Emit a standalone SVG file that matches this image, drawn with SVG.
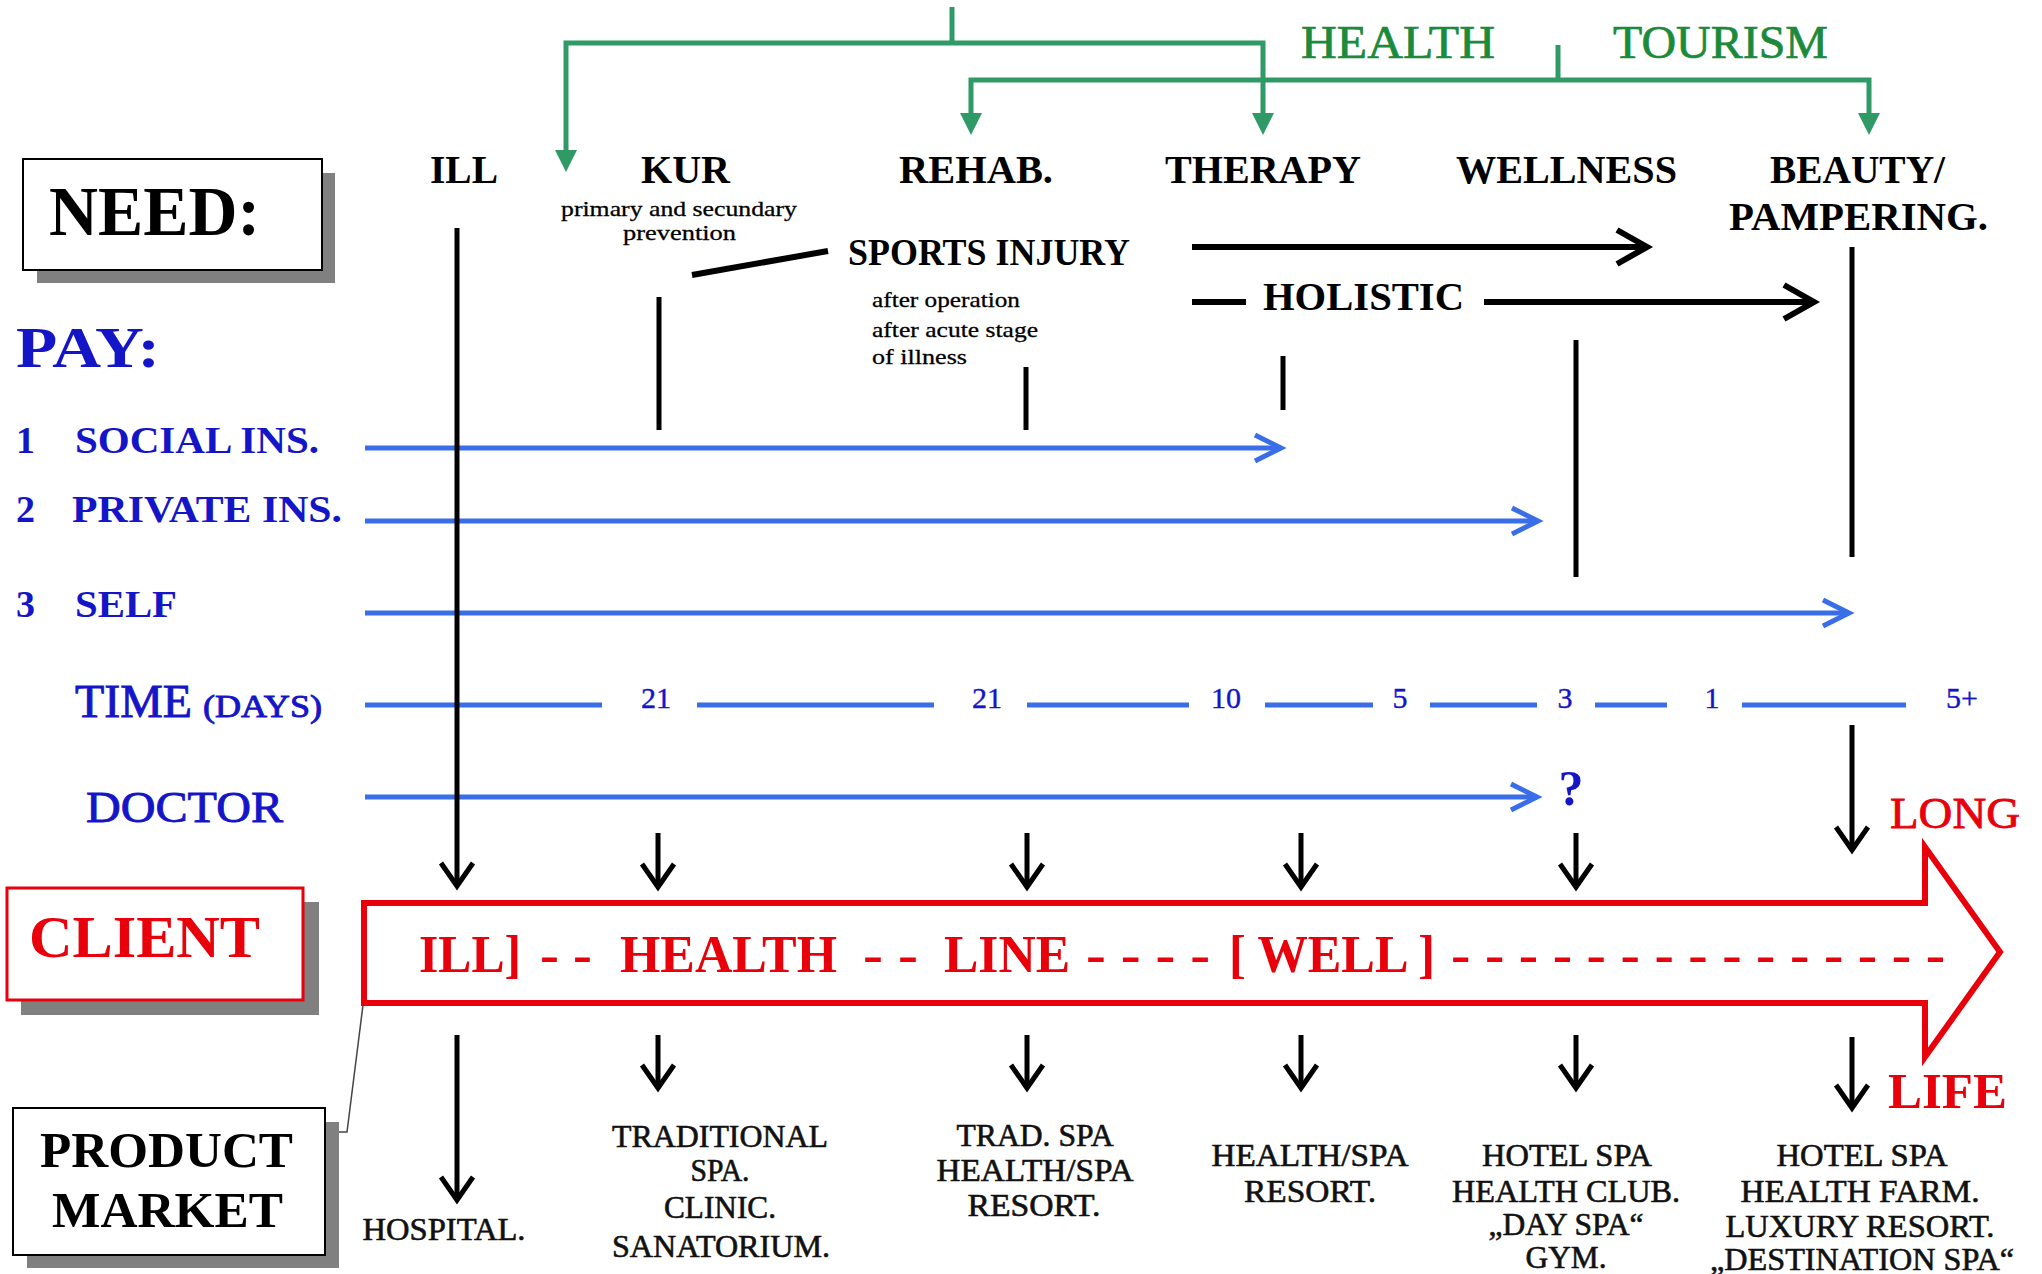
<svg xmlns="http://www.w3.org/2000/svg" width="2042" height="1274" viewBox="0 0 2042 1274">
<style>
 text{font-family:"Liberation Serif","Times New Roman",serif}
 .hdr{font-family:"Liberation Serif","Times New Roman",serif;font-weight:bold;font-size:39px;fill:#000}
 .sm{font-family:"Liberation Serif","Times New Roman",serif;font-size:22px;fill:#000;stroke:#000;stroke-width:0.3}
 .gt{font-family:"Liberation Serif","Times New Roman",serif;font-size:46px;fill:#1b8a3a;stroke:#1b8a3a;stroke-width:0.7}
 .bt{font-family:"Liberation Serif","Times New Roman",serif;font-weight:bold;font-size:38px;fill:#1515c8}
 .bm{font-family:"Liberation Serif","Times New Roman",serif;fill:#1515c8;stroke:#1515c8;stroke-width:0.9}
 .bn{font-family:"Liberation Serif","Times New Roman",serif;font-size:30px;fill:#1515c8;stroke:#1515c8;stroke-width:0.4;text-anchor:middle}
 .rt{font-family:"Liberation Serif","Times New Roman",serif;font-weight:bold;font-size:52px;fill:#e8000b}
 .pr{font-family:"Liberation Serif","Times New Roman",serif;font-size:31px;fill:#111;stroke:#111;stroke-width:0.6;text-anchor:middle}
 .bl{fill:none;stroke:#3a6ee8;stroke-width:5}
 .bk{fill:none;stroke:#000;stroke-width:5}
 .bk6{fill:none;stroke:#000;stroke-width:6}
 .gr{fill:none;stroke:#2f9a66;stroke-width:5}
 .shadow{fill:#808080}
</style>
<defs>
 <marker id="chevB" viewBox="-32 -18 38 36" refX="0" refY="0" markerWidth="38" markerHeight="36" orient="auto" markerUnits="userSpaceOnUse">
  <path d="M-26,-13 L0,0 L-26,13" fill="none" stroke="#3a6ee8" stroke-width="5"/>
 </marker>
 <marker id="chevK" viewBox="-30 -22 36 44" refX="0" refY="0" markerWidth="36" markerHeight="44" orient="auto" markerUnits="userSpaceOnUse">
  <path d="M-23,-16 L0,0 L-23,16" fill="none" stroke="#000" stroke-width="5"/>
 </marker>
 <marker id="chevK2" viewBox="-36 -22 44 44" refX="0" refY="0" markerWidth="44" markerHeight="44" orient="auto" markerUnits="userSpaceOnUse">
  <path d="M-30,-17 L0,0 L-30,17" fill="none" stroke="#000" stroke-width="6"/>
 </marker>
 <marker id="triG" viewBox="-2 -14 28 28" refX="0" refY="0" markerWidth="28" markerHeight="28" orient="auto" markerUnits="userSpaceOnUse">
  <path d="M0,-11 L22,0 L0,11 Z" fill="#2f9a66"/>
 </marker>
</defs>

<g id="connectors">
 <path class="gr" d="M952,7 V43"/>
 <path class="gr" d="M952,43 H566 V150" marker-end="url(#triG)"/>
 <path class="gr" d="M952,43 H1263 V113" marker-end="url(#triG)"/>
 <path class="gr" d="M1558,45 V80"/>
 <path class="gr" d="M1558,80 H971 V113" marker-end="url(#triG)"/>
 <path class="gr" d="M1558,80 H1869 V113" marker-end="url(#triG)"/>
 <path class="bl" d="M365,448 H1281" marker-end="url(#chevB)"/>
 <path class="bl" d="M365,521 H1538" marker-end="url(#chevB)"/>
 <path class="bl" d="M365,613 H1849" marker-end="url(#chevB)"/>
 <path class="bl" d="M365,797 H1537" marker-end="url(#chevB)"/>
 <path class="bl" d="M365,705 H602 M697,705 H934 M1027,705 H1189 M1265,705 H1373 M1430,705 H1537 M1595,705 H1667 M1742,705 H1906"/>
 <path class="bk" d="M457,228 V886" marker-end="url(#chevK)"/>
 <path class="bk" d="M659,297 V430"/>
 <path class="bk6" d="M692,275 L828,251"/>
 <path class="bk" d="M1026,367 V430"/>
 <path class="bk" d="M1283,356 V410"/>
 <path class="bk" d="M1576,340 V577"/>
 <path class="bk" d="M1852,247 V557"/>
 <path class="bk6" d="M1192,247 H1647" marker-end="url(#chevK2)"/>
 <path class="bk6" d="M1192,302 H1246"/>
 <path class="bk6" d="M1484,302 H1814" marker-end="url(#chevK2)"/>
 <path class="bk" d="M1852,725 V850" marker-end="url(#chevK)"/>
 <path class="bk" d="M658,833 V887" marker-end="url(#chevK)"/>
 <path class="bk" d="M1027,833 V887" marker-end="url(#chevK)"/>
 <path class="bk" d="M1301,833 V887" marker-end="url(#chevK)"/>
 <path class="bk" d="M1576,833 V887" marker-end="url(#chevK)"/>
 <path class="bk" d="M457,1035 V1200" marker-end="url(#chevK)"/>
 <path class="bk" d="M658,1035 V1088" marker-end="url(#chevK)"/>
 <path class="bk" d="M1027,1035 V1088" marker-end="url(#chevK)"/>
 <path class="bk" d="M1301,1035 V1088" marker-end="url(#chevK)"/>
 <path class="bk" d="M1576,1035 V1088" marker-end="url(#chevK)"/>
 <path class="bk" d="M1852,1037 V1108" marker-end="url(#chevK)"/>
 <polyline points="363,1005 347,1132 338,1132" fill="none" stroke="#444" stroke-width="1.5"/>
</g>

<g id="health-tourism">
 <text class="gt" x="1301" y="58" textLength="194" lengthAdjust="spacingAndGlyphs">HEALTH</text>
 <text class="gt" x="1613" y="58" textLength="215" lengthAdjust="spacingAndGlyphs">TOURISM</text>
</g>

<g id="need">
 <rect class="shadow" x="37" y="173" width="298" height="110"/>
 <rect x="23" y="159" width="299" height="111" fill="#fff" stroke="#000" stroke-width="2"/>
 <text x="49" y="235" font-size="70" font-weight="bold" textLength="211" lengthAdjust="spacingAndGlyphs">NEED:</text>
</g>

<g id="ill"><text class="hdr" x="430" y="183" textLength="68" lengthAdjust="spacingAndGlyphs">ILL</text></g>
<g id="kur">
 <text class="hdr" x="641" y="183" textLength="89" lengthAdjust="spacingAndGlyphs">KUR</text>
 <text class="sm" x="561" y="216" textLength="236" lengthAdjust="spacingAndGlyphs">primary and secundary</text>
 <text class="sm" x="623" y="240" textLength="113" lengthAdjust="spacingAndGlyphs">prevention</text>
</g>
<g id="rehab"><text class="hdr" x="899" y="183" textLength="154" lengthAdjust="spacingAndGlyphs">REHAB.</text></g>
<g id="therapy"><text class="hdr" x="1165" y="183" textLength="196" lengthAdjust="spacingAndGlyphs">THERAPY</text></g>
<g id="wellness"><text class="hdr" x="1456" y="183" textLength="221" lengthAdjust="spacingAndGlyphs">WELLNESS</text></g>
<g id="beauty">
 <text class="hdr" x="1770" y="183" textLength="175" lengthAdjust="spacingAndGlyphs">BEAUTY/</text>
 <text class="hdr" x="1729" y="230" textLength="259" lengthAdjust="spacingAndGlyphs">PAMPERING.</text>
</g>

<g id="sports-injury">
 <text x="848" y="265" font-size="37" font-weight="bold" textLength="282" lengthAdjust="spacingAndGlyphs">SPORTS INJURY</text>
 <text class="sm" x="872" y="307" textLength="148" lengthAdjust="spacingAndGlyphs">after operation</text>
 <text class="sm" x="872" y="337" textLength="166" lengthAdjust="spacingAndGlyphs">after acute stage</text>
 <text class="sm" x="872" y="364" textLength="95" lengthAdjust="spacingAndGlyphs">of illness</text>
</g>
<g id="holistic"><text x="1263" y="310" font-size="39" font-weight="bold" textLength="201" lengthAdjust="spacingAndGlyphs">HOLISTIC</text></g>

<g id="pay"><text x="16" y="367" font-size="58" font-weight="bold" fill="#1515c8" textLength="144" lengthAdjust="spacingAndGlyphs">PAY:</text></g>
<g id="social">
 <text class="bt" x="16" y="453">1</text>
 <text class="bt" x="75" y="453" textLength="244" lengthAdjust="spacingAndGlyphs">SOCIAL INS.</text>
</g>
<g id="private">
 <text class="bt" x="16" y="522">2</text>
 <text class="bt" x="72" y="522" textLength="270" lengthAdjust="spacingAndGlyphs">PRIVATE INS.</text>
</g>
<g id="self">
 <text class="bt" x="16" y="617">3</text>
 <text class="bt" x="75" y="617" textLength="102" lengthAdjust="spacingAndGlyphs">SELF</text>
</g>
<g id="time">
 <text class="bm" x="75" y="717" font-size="46" textLength="117" lengthAdjust="spacingAndGlyphs">TIME</text>
 <text class="bm" x="203" y="717" font-size="31" textLength="119" lengthAdjust="spacingAndGlyphs">(DAYS)</text>
 <text class="bn" x="656" y="708">21</text>
 <text class="bn" x="987" y="708">21</text>
 <text class="bn" x="1226" y="708">10</text>
 <text class="bn" x="1400" y="708">5</text>
 <text class="bn" x="1565" y="708">3</text>
 <text class="bn" x="1712" y="708">1</text>
 <text class="bn" x="1962" y="708">5+</text>
</g>
<g id="doctor">
 <text class="bm" x="86" y="822" font-size="45" textLength="197" lengthAdjust="spacingAndGlyphs">DOCTOR</text>
 <text x="1571" y="805" font-size="50" font-weight="bold" fill="#1515c8" text-anchor="middle">?</text>
</g>

<g id="long-life">
 <text x="1890" y="828" font-size="45" fill="#e8000b" stroke="#e8000b" stroke-width="0.8" textLength="130" lengthAdjust="spacingAndGlyphs">LONG</text>
 <text x="1888" y="1108" font-size="50" font-weight="bold" fill="#e8000b" textLength="119" lengthAdjust="spacingAndGlyphs">LIFE</text>
</g>

<g id="client">
 <rect class="shadow" x="21" y="902" width="298" height="113"/>
 <rect x="7" y="888" width="296" height="112" fill="#fff" stroke="#e8000b" stroke-width="3"/>
 <text x="29" y="957" font-size="60" font-weight="bold" fill="#e8000b" textLength="231" lengthAdjust="spacingAndGlyphs">CLIENT</text>
</g>

<g id="health-line">
 <polygon points="364,903 1925,903 1925,847 2000,952 1925,1057 1925,1003 364,1003" fill="#fff" stroke="#e8000b" stroke-width="6"/>
 <text class="rt" x="419" y="972" textLength="102" lengthAdjust="spacingAndGlyphs">ILL]</text>
 <text class="rt" x="540" y="972" textLength="52" lengthAdjust="spacingAndGlyphs">- -</text>
 <text class="rt" x="620" y="972" textLength="217" lengthAdjust="spacingAndGlyphs">HEALTH</text>
 <text class="rt" x="863" y="972" textLength="55" lengthAdjust="spacingAndGlyphs">- -</text>
 <text class="rt" x="944" y="972" textLength="126" lengthAdjust="spacingAndGlyphs">LINE</text>
 <text class="rt" x="1086" y="972" textLength="124" lengthAdjust="spacingAndGlyphs">- - - -</text>
 <text class="rt" x="1229" y="972" textLength="206" lengthAdjust="spacingAndGlyphs">[ WELL ]</text>
 <text class="rt" x="1451" y="972" textLength="494" lengthAdjust="spacingAndGlyphs">- - - - - - - - - - - - - - -</text>
</g>

<g id="product-market">
 <rect class="shadow" x="27" y="1122" width="312" height="146"/>
 <rect x="13" y="1108" width="312" height="147" fill="#fff" stroke="#000" stroke-width="2"/>
 <text x="40" y="1167" font-size="50" font-weight="bold" textLength="253" lengthAdjust="spacingAndGlyphs">PRODUCT</text>
 <text x="52" y="1227" font-size="50" font-weight="bold" textLength="231" lengthAdjust="spacingAndGlyphs">MARKET</text>
</g>

<g id="hospital"><text class="pr" x="444" y="1240" textLength="163" lengthAdjust="spacingAndGlyphs">HOSPITAL.</text></g>
<g id="traditional-spa">
 <text class="pr" x="720" y="1147" textLength="216" lengthAdjust="spacingAndGlyphs">TRADITIONAL</text>
 <text class="pr" x="720" y="1181" textLength="59" lengthAdjust="spacingAndGlyphs">SPA.</text>
 <text class="pr" x="720" y="1218" textLength="112" lengthAdjust="spacingAndGlyphs">CLINIC.</text>
 <text class="pr" x="721" y="1257" textLength="218" lengthAdjust="spacingAndGlyphs">SANATORIUM.</text>
</g>
<g id="trad-spa">
 <text class="pr" x="1035" y="1146" textLength="157" lengthAdjust="spacingAndGlyphs">TRAD. SPA</text>
 <text class="pr" x="1035" y="1181" textLength="197" lengthAdjust="spacingAndGlyphs">HEALTH/SPA</text>
 <text class="pr" x="1034" y="1216" textLength="133" lengthAdjust="spacingAndGlyphs">RESORT.</text>
</g>
<g id="health-spa">
 <text class="pr" x="1310" y="1166" textLength="197" lengthAdjust="spacingAndGlyphs">HEALTH/SPA</text>
 <text class="pr" x="1310" y="1202" textLength="132" lengthAdjust="spacingAndGlyphs">RESORT.</text>
</g>
<g id="hotel-spa">
 <text class="pr" x="1567" y="1166" textLength="170" lengthAdjust="spacingAndGlyphs">HOTEL SPA</text>
 <text class="pr" x="1566" y="1202" textLength="228" lengthAdjust="spacingAndGlyphs">HEALTH CLUB.</text>
 <text class="pr" x="1566" y="1235" textLength="155" lengthAdjust="spacingAndGlyphs">„DAY SPA“</text>
 <text class="pr" x="1566" y="1268" textLength="81" lengthAdjust="spacingAndGlyphs">GYM.</text>
</g>
<g id="destination">
 <text class="pr" x="1862" y="1166" textLength="171" lengthAdjust="spacingAndGlyphs">HOTEL SPA</text>
 <text class="pr" x="1860" y="1202" textLength="239" lengthAdjust="spacingAndGlyphs">HEALTH FARM.</text>
 <text class="pr" x="1860" y="1237" textLength="269" lengthAdjust="spacingAndGlyphs">LUXURY RESORT.</text>
 <text class="pr" x="1862" y="1270" textLength="304" lengthAdjust="spacingAndGlyphs">„DESTINATION SPA“</text>
</g>
</svg>
